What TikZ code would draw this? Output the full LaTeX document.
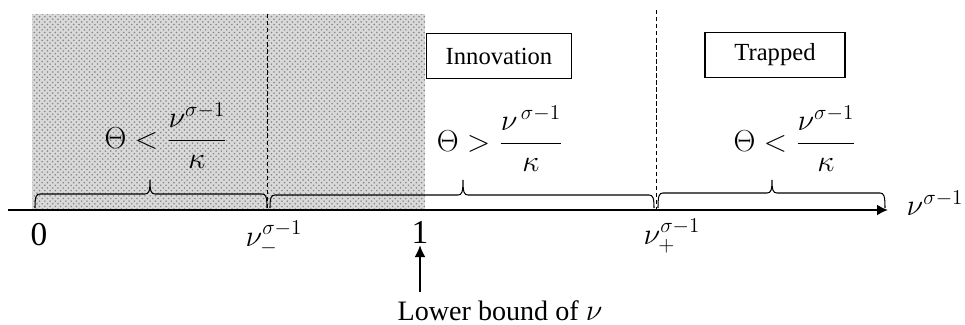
\documentclass[tikz,border=0pt]{standalone}
\usepackage{amsmath}
\usepackage{fontspec}
\setmainfont{Liberation Serif}
\usetikzlibrary{arrows.meta, patterns, positioning}
\tikzset{
    regionbox/.style={rectangle, draw, line width=0.8pt, minimum height=0.9cm, text centered, font=\fontsize{14}{16}\selectfont},
    cond/.style={inner sep=0pt, font=\fontsize{17}{20}\selectfont},
    ticklab/.style={inner sep=1pt, font=\fontsize{17}{20}\selectfont},
    numlab/.style={inner sep=1pt, font=\fontsize{19}{22}\selectfont},
    divider/.style={dash pattern=on 2.5pt off 1.5pt, line width=0.5pt},
    wbrace/.style={line width=0.6pt},
    axis/.style={-{Latex[length=0.22cm, width=0.22cm]}, line width=1.1pt},
    arrow/.style={-{Latex[length=0.24cm, width=0.22cm]}, line width=1.1pt}
}
% brace as drawn by Word: left end, tip, right end, height of the bar
\newcommand{\wbrace}[4]{%
  \draw[wbrace] (#1,208) .. controls (#1,#4+3) and (#1+1,#4) .. (#1+5,#4) -- (#2-5,#4)
    .. controls (#2-1,#4) and (#2,#4-3) .. (#2,180)
    .. controls (#2,#4-3) and (#2+1,#4) .. (#2+5,#4) -- (#3-5,#4)
    .. controls (#3-1,#4) and (#3,#4+3) .. (#3,208);}

\begin{document}
\begin{tikzpicture}[x=0.02cm, y=-0.02cm]
			\useasboundingbox (0,0) rectangle (965,325);
			% excluded part of the axis
			\fill[gray!30] (32,14) rectangle (425,210);
			\fill[pattern=crosshatch dots, pattern color=gray!95] (32,14) rectangle (425,210);
			\draw[divider] (267,14) -- (267,210);
			\draw[divider] (656,10) -- (656,210);
			
			\node (innov) [regionbox, minimum width=2.9cm] at (499,56) {Innovation};
			\node (trap) [regionbox, minimum width=2.8cm] at (775,55) {Trapped};
			
			\node (c1) [cond] at (166,136) {$\Theta < \dfrac{\nu^{\sigma-1}}{\kappa}$};
			\node (c2) [cond] at (500,139) {$\Theta > \dfrac{\nu^{\,\sigma-1}}{\kappa}$};
			\node (c3) [cond] at (795,139) {$\Theta < \dfrac{\nu^{\sigma-1}}{\kappa}$};
			
			\wbrace{35}{150}{267}{194}
			\wbrace{270}{463}{654}{195}
			\wbrace{658}{772}{885}{193}
			
			\draw[axis] (8,210) -- (888,210);
			\node (axlab) [ticklab] at (935,203) {$\nu^{\sigma-1}$};
			
			\node (zero) [numlab] at (39,235) {0};
			\node (vminus) [ticklab] at (274,238) {$\nu_-^{\sigma-1}$};
			\node (one) [numlab] at (420,232) {1};
			\node (vplus) [ticklab] at (672,236) {$\nu_+^{\sigma-1}$};
			
			\node (lb) [ticklab, font=\fontsize{16}{18}\selectfont] at (500,311) {Lower bound of $\nu$};
			\coordinate (ptr) at (420,292);
			\draw[arrow] (ptr) -- (one.south);
		\end{tikzpicture}
\end{document}
